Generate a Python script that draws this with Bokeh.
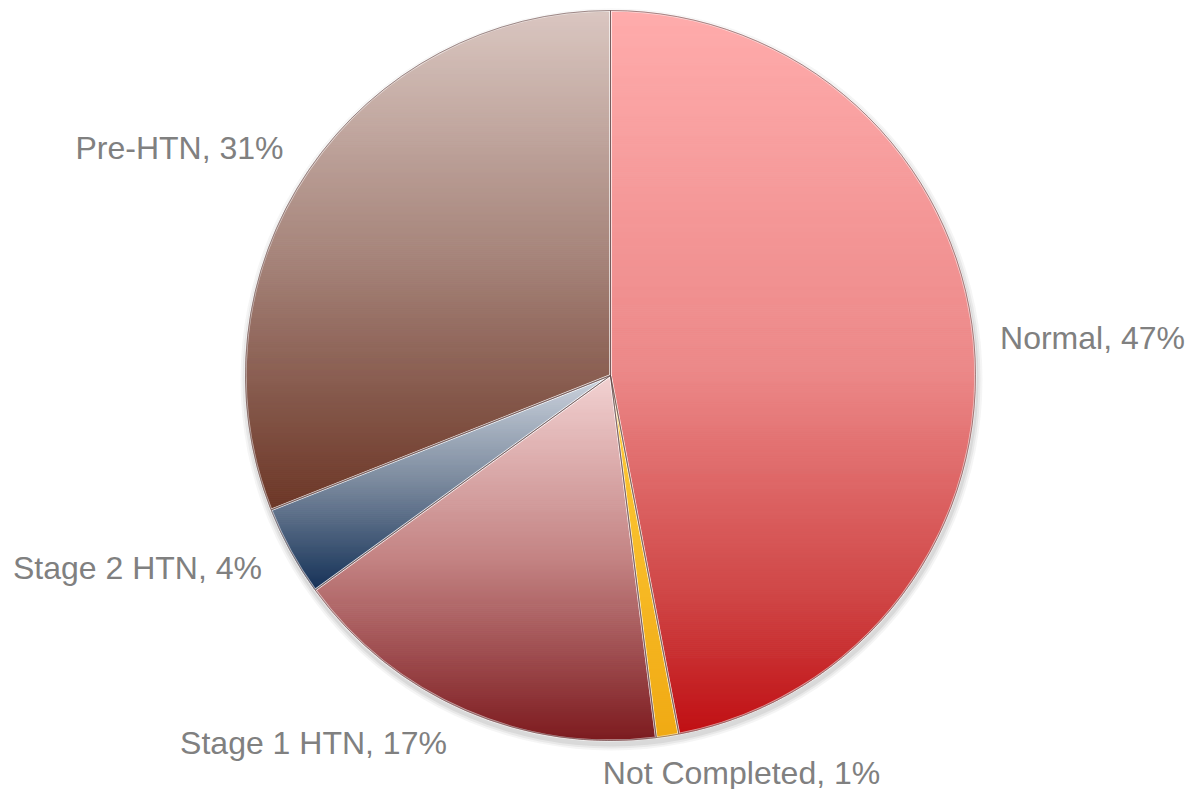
import math
from bokeh.plotting import figure
from bokeh.models import Range1d, ColumnDataSource
from bokeh.core.properties import value
from bokeh.embed import file_html
from bokeh.resources import INLINE

# ---- data ----
categories = ["Normal", "Not Completed", "Stage 1 HTN", "Stage 2 HTN", "Pre-HTN"]
percents = [47, 1, 17, 4, 31]

# ---- style / layout ----
W, H = 1190, 789
CX, CY, R = 610, H - 375, 365
gradients = {
    "Normal": [(0.0, (255, 172, 172)), (0.5, (236, 136, 136)), (0.8, (208, 72, 72)), (1.0, (192, 16, 20))],
    "Not Completed": [(0.0, (255, 205, 60)), (1.0, (240, 170, 20))],
    "Stage 1 HTN": [(0.0, (242, 210, 210)), (0.5, (196, 132, 132)), (1.0, (125, 28, 32))],
    "Stage 2 HTN": [(0.0, (205, 212, 222)), (0.5, (122, 137, 157)), (1.0, (22, 50, 88))],
    "Pre-HTN": [(0.0, (218, 199, 193)), (0.5, (165, 131, 121)), (1.0, (108, 54, 38))],
}
label_pos = [(1092, H - 337), (741, H - 772), (313, H - 742), (137, H - 567), (179, H - 147)]
label_color = "#808080"


def lerp_color(stops, t):
    t = min(max(t, 0.0), 1.0)
    for (t0, c0), (t1, c1) in zip(stops[:-1], stops[1:]):
        if t <= t1:
            f = 0 if t1 == t0 else (t - t0) / (t1 - t0)
            c = [round(a + (b - a) * f) for a, b in zip(c0, c1)]
            return "#%02x%02x%02x" % tuple(c)
    return "#%02x%02x%02x" % stops[-1][1]


def clip_half(pts, yc, above):
    out = []
    n = len(pts)
    for i in range(n):
        cur, prev = pts[i], pts[i - 1]
        cin = cur[1] >= yc if above else cur[1] <= yc
        pin = prev[1] >= yc if above else prev[1] <= yc
        if cin:
            if not pin:
                f = (yc - prev[1]) / (cur[1] - prev[1])
                out.append((prev[0] + f * (cur[0] - prev[0]), yc))
            out.append(cur)
        elif pin:
            f = (yc - prev[1]) / (cur[1] - prev[1])
            out.append((prev[0] + f * (cur[0] - prev[0]), yc))
    return out


total = float(sum(percents))
cum = [0.0]
for v in percents:
    cum.append(cum[-1] + v / total)
starts = [math.pi / 2 - 2 * math.pi * cum[i + 1] for i in range(len(percents))]
ends = [math.pi / 2 - 2 * math.pi * cum[i] for i in range(len(percents))]

p = figure(width=W, height=H, output_backend="svg", toolbar_location=None,
           x_range=Range1d(0, W), y_range=Range1d(0, H), min_border=0)
p.axis.visible = False
p.grid.visible = False
p.outline_line_color = None
p.background_fill_color = "white"
p.border_fill_color = "white"

# soft shadow
for dr, a in [(6, 0.05), (4, 0.07), (2, 0.09)]:
    p.circle(x=[CX + 1], y=[CY - 4], radius=R + dr, fill_color="#404040", fill_alpha=a, line_color=None)

# gradient fill built from horizontal bands of each slice
xs, ys, cols = [], [], []
for cat, a1, a2 in zip(categories, starts, ends):
    nseg = max(8, int(abs(a2 - a1) * 120))
    poly = [(CX, CY)] + [(CX + R * math.cos(a1 + (a2 - a1) * k / nseg),
                          CY + R * math.sin(a1 + (a2 - a1) * k / nseg)) for k in range(nseg + 1)]
    ytop = max(q[1] for q in poly)
    ybot = min(q[1] for q in poly)
    nb = max(6, int((ytop - ybot) / 2))
    for b in range(nb):
        hi = ytop - (ytop - ybot) * b / nb
        lo = ytop - (ytop - ybot) * (b + 1) / nb
        piece = clip_half(clip_half(poly, lo, True), hi, False)
        if len(piece) < 3:
            continue
        xs.append([q[0] for q in piece])
        ys.append([q[1] for q in piece])
        cols.append(lerp_color(gradients[cat], (b + 0.5) / nb))

p.patches(xs="xs", ys="ys", fill_color="cols", line_color="cols", line_width=1,
          source=ColumnDataSource(dict(xs=xs, ys=ys, cols=cols)))

# slice outlines
src = ColumnDataSource(dict(start=starts, end=ends, cat=categories))
p.wedge(x=CX, y=CY, radius=R, start_angle="start", end_angle="end", source=src,
        fill_alpha=0, line_color="#ffffff", line_alpha=0.55, line_width=2.5)
p.wedge(x=CX, y=CY, radius=R, start_angle="start", end_angle="end", source=src,
        fill_alpha=0, line_color="#5a3a3a", line_alpha=0.55, line_width=1)

# labels
labels = [f"{c}, {v}%" for c, v in zip(categories, percents)]
p.text(x=[q[0] for q in label_pos], y=[q[1] for q in label_pos], text=labels,
       text_font=value("Liberation Sans"), text_font_size="32px", text_color=label_color,
       text_align="center", text_baseline="middle")

open("out.html", "w").write(file_html(p, INLINE))
